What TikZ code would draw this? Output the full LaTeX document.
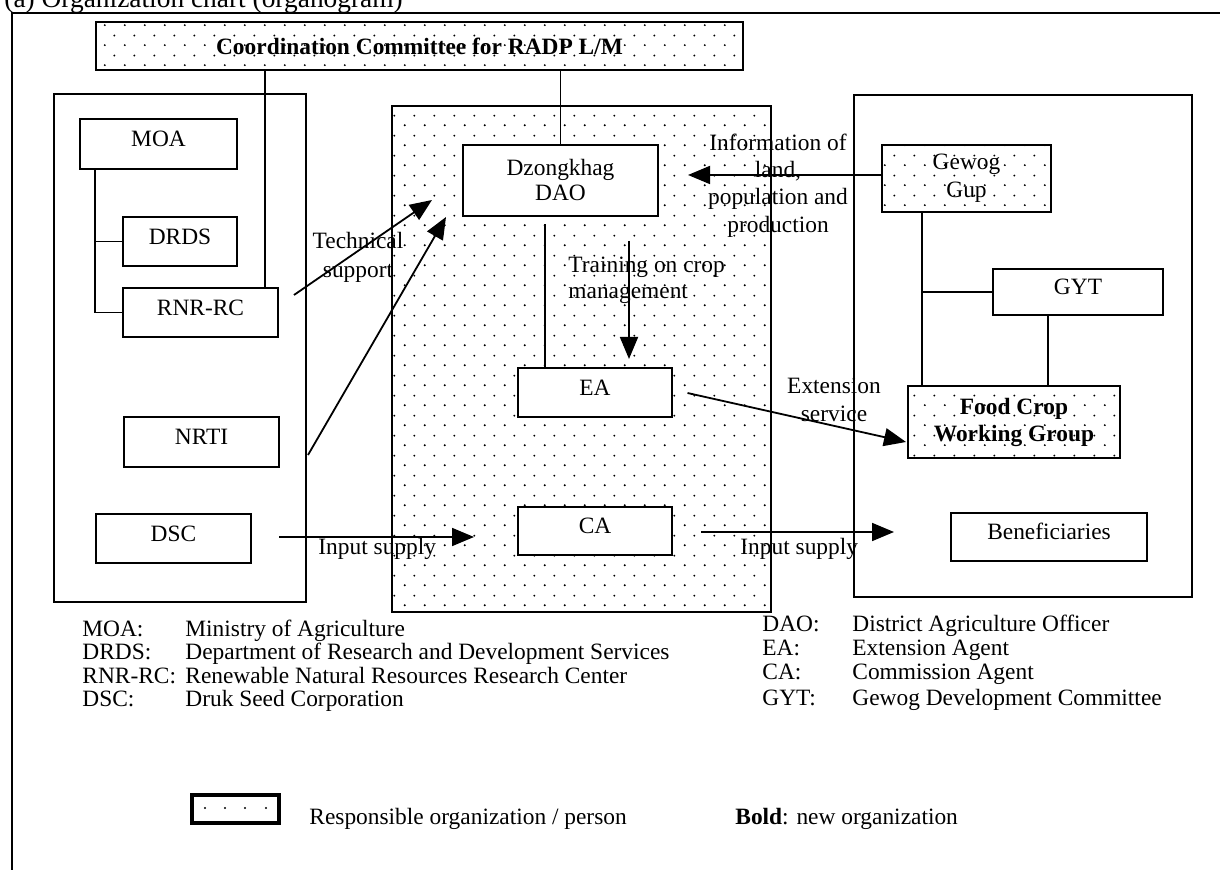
\documentclass[tikz,border=0pt]{standalone}
\usepackage{fontspec}
\setmainfont{Liberation Serif}
\usetikzlibrary{arrows.meta,calc,fit,patterns.meta}

% staggered dot screen used for the responsible organisations
\tikzdeclarepattern{
  name=stagdots,
  type=uncolored,
  bounding box={(0pt,0pt) and (10pt,10pt)},
  tile size={(10pt,10pt)},
  code={
    \fill (2.5pt,2.5pt) circle [radius=0.55pt];
    \fill (7.5pt,7.5pt) circle [radius=0.55pt];
  }
}

\newcommand\orgfont{\fontsize{11.7}{13}\selectfont}

\begin{document}
\begin{tikzpicture}[x=0.5pt,y=-0.5pt,
  every node/.style={font=\orgfont},
  orgbox/.style={draw, line width=1pt, fill=white, inner sep=0pt, align=center},
  dotbox/.style={draw, line width=1pt, pattern=stagdots, pattern color=black, inner sep=0pt, align=center},
  panel/.style={draw, line width=1pt, inner sep=0pt},
  lift/.style={text height=8pt, text depth=5pt},
  size/.style 2 args={minimum width=#1, minimum height=#2},
  link/.style={line width=0.9pt},
  arr/.style={line width=0.9pt, -{Triangle[length=11pt,width=9pt]}},
  lbl/.style={inner sep=0pt, align=center},
  legend/.style={anchor=base west, inner sep=0pt}]

\useasboundingbox (0,0) rectangle (1220,870);
\clip (0,0) rectangle (1220,870);
\fill[white] (0,0) rectangle (1220,870);

% caption and frame
\node[anchor=base west, inner sep=0pt, font=\fontsize{13.7}{15}\selectfont] (title) at (4,8) {(a) Organization chart (organogram)};
\draw[line width=0.75pt] (12,870) -- (12,13) -- (1220,13);

% three panels
\node[panel, fit={(54,94) (306,602)}] (lp) {};
\node[panel, pattern=stagdots, pattern color=black, fit={(392,106) (771,612)}] (dz) {};
\node[panel, fit={(854,95) (1192,597)}] (rp) {};

% committee
\node[dotbox, font={\orgfont\bfseries}, size={323.5pt}{24pt}] (comm) at (419.5,46) {Coordination Committee for RADP L/M};

% national level
\node[orgbox, lift, size={78.5pt}{25pt}] (moa) at (158.5,144) {MOA};
\node[orgbox, lift, size={57pt}{24.5pt}] (drds) at (180,241.5) {DRDS};
\node[orgbox, lift, size={77.5pt}{24.5pt}] (rnr) at (200.5,312.5) {RNR-RC};
\node[orgbox, lift, size={77.5pt}{25pt}] (nrti) at (201.5,442) {NRTI};
\node[orgbox, lift, size={77.5pt}{24.5pt}] (dsc) at (173.5,538.5) {DSC};

% district level
\node[orgbox, font={\fontsize{11.7}{12.5}\selectfont}, size={97.5pt}{35.5pt}] (dao) at (560.5,180.5) {Dzongkhag\\DAO};
\node[orgbox, lift, size={77pt}{24.5pt}] (ea) at (595,392.5) {EA};
\node[orgbox, lift, size={77pt}{24pt}] (ca) at (595,531) {CA};

% gewog level
\node[dotbox, font={\fontsize{11.7}{14}\selectfont}, size={84.5pt}{33.5pt}] (gewog) at (966.5,178.5) {Gewog\\Gup};
\node[orgbox, lift, size={85pt}{23pt}] (gyt) at (1078,292) {GYT};
\node[dotbox, font={\fontsize{11.7}{13.5}\selectfont\bfseries}, size={106pt}{36pt}] (food) at (1014,422) {Food Crop\\Working Group};
\node[orgbox, lift, size={98pt}{24pt}] (benef) at (1049,537) {Beneficiaries};

% hierarchy lines
\draw[link] ($(rnr.north east)+(-14,0)$) coordinate (c1) -- (c1 |- comm.south);
\draw[link] (dao.north) -- (dao.north |- comm.south);
\draw[link] ($(moa.south west)+(16,0)$) coordinate (m1) |- (rnr.west);
\draw[link] (m1 |- drds.west) -- (drds.west);
\draw[link] ($(ea.north west)+(28,0)$) coordinate (e1) -- ($(e1 |- dao.south)+(0,7)$);
\draw[link] ($(gewog.south west)+(41,0)$) coordinate (g1) -- (g1 |- food.north);
\draw[link] (g1 |- gyt.west) -- (gyt.west);
\draw[link] ($(gyt.south west)+(56,0)$) coordinate (y1) -- (y1 |- food.north);

% flows
\draw[arr] ($(rnr.east)+(15,-17.5)$) -- ($(dao.west)+(-30,19.5)$);
\draw[arr] ($(nrti.east)+(28,13)$) -- ($(dao.west)+(-16,36.5)$);
\draw[arr] ($(gewog.west)+(0,-3.5)$) -- ($(dao.east)+(29,-5.5)$);
\draw[arr] ($(dao.south)+(68.5,24)$) -- ($(ea.north)+(34,-8)$);
\draw[arr] ($(ea.east)+(14.5,0.5)$) -- ($(food.west)+(-1,20)$);
\draw[arr] ($(dsc.east)+(27,-1.5)$) -- ($(ca.west)+(-43,6)$);
\draw[arr] ($(ca.east)+(28,1)$) -- ($(benef.west)+(-56,-5)$);

% flow labels
\node[lbl, font={\fontsize{11.7}{14.5}\selectfont}] (tech) at (358,257) {Technical\\support};
\node[lbl, font={\fontsize{11.7}{13.65}\selectfont}] (info) at (778,185.5) {Information of\\land,\\population and\\production};
\node[lbl, align=left, anchor=north west, font={\fontsize{11.7}{13}\selectfont}] (train) at (568,256.5) {Training on crop\\management};
\node[lbl, font={\fontsize{11.7}{14}\selectfont}] (ext) at (834,400) {Extension\\service};
\node[legend] (in1) at (318,555) {Input supply};
\node[legend] (in2) at (740,555) {Input supply};

% abbreviations
\node[legend] (k1) at (82,637) {MOA:};
\node[legend] (d1) at (185,637) {Ministry of Agriculture};
\node[legend] (k2) at (82,660) {DRDS:};
\node[legend] (d2) at (185,660) {Department of Research and Development Services};
\node[legend] (k3) at (82,683) {RNR-RC:};
\node[legend] (d3) at (185,683) {Renewable Natural Resources Research Center};
\node[legend] (k4) at (82,706) {DSC:};
\node[legend] (d4) at (185,706) {Druk Seed Corporation};
\node[legend] (k5) at (762,632) {DAO:};
\node[legend] (d5) at (852,632) {District Agriculture Officer};
\node[legend] (k6) at (762,656) {EA:};
\node[legend] (d6) at (852,656) {Extension Agent};
\node[legend] (k7) at (762,680) {CA:};
\node[legend] (d7) at (852,680) {Commission Agent};
\node[legend] (k8) at (762,705) {GYT:};
\node[legend] (d8) at (852,705) {Gewog Development Committee};

% key
\node[draw, line width=2pt, inner sep=0pt, fit={(192,795) (279,823)}] (key) {};
\foreach \x in {205,225,245,266} \fill (\x,808) circle [radius=0.6pt];
\node[legend] (keytxt) at (309,824) {Responsible organization / person};
\node[legend] (boldtxt) at (735,824) {\textbf{Bold}: new organization};

\end{tikzpicture}
\end{document}
